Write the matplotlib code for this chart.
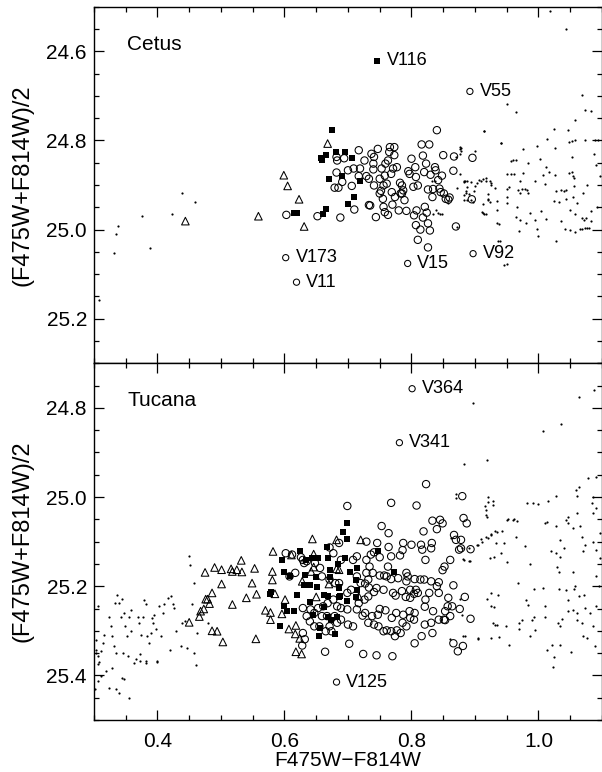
import matplotlib
matplotlib.use("Agg")
import matplotlib.pyplot as plt
from matplotlib.ticker import MultipleLocator

plt.rcParams['font.family'] = ['Liberation Sans', 'DejaVu Sans']

# ---------------- Cetus (top panel) ----------------
cet_circ_x = [0.603, 0.652, 0.688, 0.710, 0.683, 0.682, 0.682, 0.679, 0.685, 0.694, 0.706, 0.709,
              0.717, 0.719, 0.733, 0.733, 0.735, 0.740, 0.740, 0.741, 0.744, 0.747, 0.750, 0.752,
              0.753, 0.755, 0.756, 0.758, 0.759, 0.763, 0.765, 0.766, 0.768, 0.773, 0.769, 0.770,
              0.773, 0.774, 0.777, 0.780, 0.782, 0.785, 0.785, 0.787, 0.789, 0.792, 0.795, 0.797,
              0.800, 0.803, 0.806, 0.807, 0.808, 0.810, 0.816, 0.818, 0.820, 0.821, 0.823, 0.826,
              0.828, 0.830, 0.833, 0.834, 0.837, 0.838, 0.840, 0.842, 0.844, 0.846, 0.848, 0.850,
              0.851, 0.854, 0.858, 0.860, 0.866, 0.867, 0.870, 0.896, 0.895, 0.804, 0.807, 0.814,
              0.818, 0.824, 0.826, 0.829, 0.810, 0.826, 0.783, 0.758, 0.761, 0.771, 0.729, 0.750,
              0.756, 0.763, 0.741, 0.737, 0.726, 0.717, 0.700, 0.691]
cet_circ_y = [24.967, 24.970, 24.973, 24.955, 24.845, 24.837, 24.872, 24.906, 24.906, 24.840, 24.902, 24.863,
              24.822, 24.863, 24.886, 24.945, 24.946, 24.852, 24.865, 24.901, 24.972, 24.819, 24.886, 24.913,
              24.863, 24.931, 24.901, 24.961, 24.852, 24.845, 24.826, 24.815, 24.875, 24.815, 24.916, 24.944,
              24.833, 24.927, 24.860, 24.957, 24.895, 24.901, 24.919, 24.912, 24.934, 24.958, 24.869, 24.875,
              24.841, 24.904, 24.860, 24.882, 24.957, 24.901, 24.809, 24.834, 24.871, 24.949, 24.852, 24.910,
              24.809, 24.877, 24.927, 24.909, 24.860, 24.867, 24.777, 24.889, 24.908, 24.916, 24.879, 24.833,
              24.919, 24.931, 24.933, 24.928, 24.868, 24.836, 24.993, 24.839, 24.932, 24.968, 24.990, 25.000,
              24.973, 24.962, 24.986, 25.002, 25.023, 25.040, 24.919, 24.879, 24.897, 24.863, 24.880, 24.919,
              24.949, 24.967, 24.837, 24.830, 24.845, 24.880, 24.867, 24.893]

cet_sq_x = [0.675, 0.657, 0.659, 0.665, 0.681, 0.695, 0.706, 0.691, 0.670, 0.719,
            0.709, 0.700, 0.665, 0.661, 0.615, 0.619]
cet_sq_y = [24.777, 24.839, 24.845, 24.833, 24.827, 24.827, 24.839, 24.880, 24.887, 24.890,
            24.926, 24.943, 24.953, 24.964, 24.962, 24.962]

cet_tri_x = [0.444, 0.559, 0.599, 0.605, 0.623, 0.631, 0.668]
cet_tri_y = [24.981, 24.970, 24.878, 24.902, 24.932, 24.993, 24.807]

cet_dot_x = [0.331, 0.335, 0.338, 0.375, 0.388, 0.423, 0.438, 0.459, 0.308,
             1.018, 1.043, 0.950, 0.965, 1.068, 1.074, 1.082, 0.914, 1.057, 1.024, 0.941,
             0.878, 0.877, 1.089, 1.048, 1.052, 1.057, 1.073, 1.047, 1.013, 0.998, 1.026,
             0.976, 1.003, 1.052, 1.087, 0.957, 0.960, 0.965, 0.983, 1.012, 1.017, 1.048,
             1.052, 1.054, 1.056, 1.090, 0.950, 0.956, 0.962, 0.877, 0.925, 0.884, 0.894,
             0.907, 0.912, 0.917, 0.994, 1.007, 1.026, 1.028, 1.036, 1.040, 1.044, 1.010,
             1.077, 1.056, 0.974, 0.978, 0.982, 0.971, 0.984, 0.886, 0.898, 0.921, 0.951,
             0.951, 0.951, 0.882, 0.893, 0.920, 0.934, 0.911, 0.914, 0.935, 0.964, 0.971,
             0.981, 0.994, 0.998, 1.000, 0.970, 0.966, 0.987, 1.004, 1.012, 1.027, 1.024,
             1.032, 1.036, 1.041, 1.049, 1.057, 1.069, 1.072, 1.075, 1.065, 1.069, 1.073,
             1.077, 1.080, 1.083, 1.057, 1.083, 1.049, 1.061, 1.043, 1.055, 1.070, 0.936,
             0.946, 0.897, 0.913, 0.870, 0.876, 0.882, 0.887, 0.842, 0.834, 0.876, 0.878,
             0.900, 0.914, 0.941, 0.832, 0.837, 0.883, 0.888, 0.900, 0.903, 0.910, 0.917,
             0.924, 0.926, 0.872, 0.886, 0.891, 0.883, 0.887, 0.921, 0.924, 0.932, 0.934,
             0.845, 0.848, 0.839, 0.858, 0.913, 0.917, 0.938, 0.939, 0.950, 0.953, 0.967,
             0.971, 0.975, 0.871, 1.094, 1.097, 1.092]
cet_dot_y = [25.053, 25.010, 24.993, 24.969, 25.042, 24.965, 24.918, 24.938, 25.159,
             24.510, 24.549, 24.718, 24.737, 24.697, 24.731, 24.733, 24.778, 24.755, 24.775, 24.805,
             24.816, 24.830, 24.798, 24.804, 24.802, 24.799, 24.799, 24.777, 24.796, 24.813, 24.816,
             24.819, 24.841, 24.837, 24.831, 24.847, 24.845, 24.843, 24.851, 24.860, 24.870, 24.872,
             24.870, 24.880, 24.884, 24.855, 24.875, 24.876, 24.875, 24.875, 24.896, 24.890, 24.893,
             24.889, 24.887, 24.890, 24.890, 24.877, 24.878, 24.913, 24.911, 24.913, 24.911, 24.898,
             24.899, 24.903, 24.910, 24.910, 24.911, 24.917, 24.919, 24.917, 24.913, 24.920, 24.910,
             24.927, 24.940, 24.933, 24.933, 24.934, 24.955, 24.961, 24.964, 24.986, 24.971, 24.979,
             24.985, 24.978, 24.999, 25.014, 25.003, 24.950, 24.962, 24.959, 24.977, 25.025, 24.935,
             24.938, 24.981, 24.999, 25.001, 25.006, 24.975, 24.978, 24.975, 24.998, 24.998, 24.997,
             24.997, 24.996, 24.980, 24.966, 24.958, 24.956, 24.940, 24.931, 24.928, 24.917, 25.025,
             25.080, 24.939, 24.942, 24.837, 24.815, 24.893, 24.904, 24.962, 24.964, 24.819, 24.824,
             24.824, 24.779, 24.805, 24.890, 24.892, 24.892, 24.890, 24.903, 24.895, 24.890, 24.884,
             24.892, 24.899, 24.906, 24.914, 24.920, 24.922, 24.933, 24.931, 24.937, 24.906, 24.935,
             24.965, 24.965, 24.956, 24.940, 24.963, 24.965, 24.987, 25.026, 25.077, 24.905, 24.912,
             24.890, 24.873, 24.995, 24.800, 24.880, 24.950]

cet_var_names = ['V116', 'V55', 'V173', 'V11', 'V15', 'V92']
cet_var_x = [0.746, 0.892, 0.602, 0.619, 0.794, 0.897]
cet_var_y = [24.621, 24.690, 25.063, 25.118, 25.076, 25.054]
cet_var_kind = ['sq', 'circ', 'circ', 'circ', 'circ', 'circ']

# ---------------- Tucana (bottom panel) ----------------
tuc_circ_x = [0.699, 0.823, 0.808, 0.768, 0.880, 0.753, 0.833, 0.845, 0.849, 0.840, 0.819, 0.882,
              0.887, 0.867, 0.870, 0.878, 0.893, 0.875, 0.861, 0.852, 0.849, 0.787, 0.800, 0.786,
              0.815, 0.817, 0.822, 0.832, 0.831, 0.764, 0.746, 0.729, 0.714, 0.741, 0.736, 0.750,
              0.768, 0.782, 0.763, 0.734, 0.739, 0.750, 0.757, 0.761, 0.727, 0.733, 0.768, 0.779,
              0.794, 0.805, 0.814, 0.820, 0.831, 0.843, 0.866, 0.840, 0.792, 0.785, 0.771, 0.756,
              0.745, 0.741, 0.732, 0.726, 0.717, 0.775, 0.791, 0.798, 0.804, 0.798, 0.807, 0.810,
              0.864, 0.884, 0.857, 0.853, 0.861, 0.851, 0.843, 0.834, 0.821, 0.805, 0.797, 0.787,
              0.776, 0.769, 0.759, 0.750, 0.747, 0.738, 0.727, 0.714, 0.699, 0.689, 0.683, 0.679,
              0.683, 0.689, 0.700, 0.708, 0.723, 0.732, 0.741, 0.748, 0.756, 0.761, 0.768, 0.777,
              0.786, 0.792, 0.783, 0.774, 0.798, 0.804, 0.821, 0.831, 0.833, 0.816, 0.805, 0.853,
              0.876, 0.893, 0.866, 0.873, 0.881, 0.724, 0.745, 0.770, 0.702, 0.664, 0.628, 0.632,
              0.629, 0.640, 0.647, 0.655, 0.659, 0.667, 0.671, 0.674, 0.665, 0.647, 0.635, 0.629,
              0.641, 0.653, 0.661, 0.668, 0.677, 0.699, 0.705, 0.720, 0.729, 0.732, 0.714, 0.686,
              0.680, 0.671, 0.659, 0.656, 0.648, 0.635, 0.629, 0.617, 0.608, 0.602, 0.612, 0.626,
              0.631, 0.671, 0.677, 0.686, 0.689, 0.708, 0.729, 0.764, 0.792, 0.822, 0.828, 0.843,
              0.858, 0.878]
tuc_circ_y = [25.020, 24.971, 25.019, 25.013, 24.998, 25.065, 25.053, 25.051, 25.059, 25.072, 25.077, 25.047,
              25.059, 25.085, 25.096, 25.096, 25.117, 25.118, 25.141, 25.156, 25.164, 25.103, 25.107, 25.119,
              25.107, 25.118, 25.141, 25.103, 25.115, 25.112, 25.103, 25.100, 25.133, 25.124, 25.129, 25.135,
              25.133, 25.131, 25.156, 25.156, 25.170, 25.176, 25.176, 25.178, 25.194, 25.203, 25.184, 25.182,
              25.178, 25.184, 25.185, 25.185, 25.189, 25.191, 25.198, 25.200, 25.189, 25.211, 25.215, 25.208,
              25.204, 25.213, 25.223, 25.230, 25.238, 25.221, 25.224, 25.226, 25.217, 25.208, 25.208, 25.215,
              25.245, 25.224, 25.245, 25.256, 25.267, 25.275, 25.275, 25.256, 25.246, 25.260, 25.256, 25.264,
              25.260, 25.271, 25.254, 25.251, 25.264, 25.267, 25.260, 25.252, 25.252, 25.249, 25.245, 25.267,
              25.282, 25.275, 25.286, 25.290, 25.266, 25.282, 25.286, 25.290, 25.301, 25.299, 25.301, 25.299,
              25.282, 25.290, 25.305, 25.312, 25.271, 25.275, 25.286, 25.282, 25.305, 25.312, 25.328, 25.276,
              25.251, 25.273, 25.328, 25.346, 25.334, 25.352, 25.355, 25.357, 25.329, 25.347, 25.333, 25.319,
              25.305, 25.279, 25.290, 25.290, 25.267, 25.267, 25.290, 25.301, 25.301, 25.260, 25.267, 25.249,
              25.252, 25.249, 25.245, 25.238, 25.230, 25.215, 25.208, 25.193, 25.170, 25.185, 25.178, 25.193,
              25.193, 25.185, 25.178, 25.159, 25.148, 25.144, 25.141, 25.170, 25.178, 25.126, 25.129, 25.135,
              25.148, 25.113, 25.126, 25.103, 25.141, 25.141, 25.141, 25.081, 25.170, 25.230, 25.215, 25.215,
              25.226, 25.115]

tuc_sq_x = [0.699, 0.692, 0.699, 0.667, 0.625, 0.596, 0.634, 0.644, 0.653, 0.668, 0.684, 0.696,
            0.600, 0.609, 0.633, 0.649, 0.671, 0.672, 0.631, 0.641, 0.652, 0.579, 0.577, 0.620,
            0.662, 0.668, 0.687, 0.686, 0.641, 0.600, 0.604, 0.615, 0.662, 0.699, 0.645, 0.668,
            0.682, 0.673, 0.593, 0.656, 0.655, 0.680, 0.747, 0.772, 0.714, 0.703, 0.686, 0.686,
            0.713, 0.712, 0.714]
tuc_sq_y = [25.059, 25.079, 25.094, 25.111, 25.121, 25.141, 25.142, 25.137, 25.137, 25.137, 25.150, 25.137,
            25.167, 25.178, 25.174, 25.180, 25.163, 25.180, 25.197, 25.197, 25.201, 25.212, 25.217, 25.219,
            25.219, 25.223, 25.223, 25.202, 25.236, 25.244, 25.256, 25.256, 25.247, 25.234, 25.264, 25.268,
            25.268, 25.275, 25.290, 25.294, 25.312, 25.308, 25.121, 25.167, 25.208, 25.167, 25.205, 25.224,
            25.185, 25.225, 25.160]

tuc_tri_x = [0.450, 0.466, 0.468, 0.473, 0.476, 0.479, 0.482, 0.486, 0.475, 0.490, 0.501, 0.501,
             0.516, 0.518, 0.525, 0.532, 0.533, 0.553, 0.549, 0.540, 0.518, 0.486, 0.494, 0.503,
             0.555, 0.556, 0.582, 0.581, 0.581, 0.585, 0.570, 0.578, 0.578, 0.596, 0.607, 0.611,
             0.644, 0.646, 0.682, 0.618, 0.617, 0.624, 0.618, 0.627, 0.601, 0.646, 0.628, 0.670,
             0.650, 0.642, 0.682, 0.720, 0.717, 0.686]
tuc_tri_y = [25.281, 25.268, 25.256, 25.251, 25.229, 25.229, 25.239, 25.215, 25.169, 25.158, 25.163, 25.195,
             25.161, 25.167, 25.163, 25.142, 25.168, 25.160, 25.193, 25.226, 25.241, 25.300, 25.301, 25.325,
             25.318, 25.218, 25.122, 25.167, 25.186, 25.217, 25.254, 25.259, 25.275, 25.262, 25.296, 25.130,
             25.094, 25.128, 25.096, 25.288, 25.307, 25.317, 25.347, 25.352, 25.230, 25.157, 25.189, 25.195,
             25.224, 25.167, 25.161, 25.096, 25.223, 25.163]

tuc_dot_x = [0.307, 0.303, 0.303, 0.306, 0.308, 0.311, 0.315, 0.316, 0.324, 0.327, 0.328, 0.332,
             0.333, 0.337, 0.340, 0.345, 0.342, 0.348, 0.349, 0.352, 0.353, 0.356, 0.358, 0.359,
             0.363, 0.369, 0.371, 0.374, 0.373, 0.377, 0.379, 0.382, 0.382, 0.384, 0.387, 0.390,
             0.391, 0.393, 0.395, 0.397, 0.400, 0.403, 0.405, 0.408, 0.411, 0.417, 0.420, 0.421,
             0.425, 0.426, 0.429, 0.437, 0.439, 0.444, 0.447, 0.450, 0.452, 0.454, 0.457, 0.458,
             0.460, 0.462, 0.479, 0.304, 0.307, 0.311, 0.319, 0.323, 0.328, 0.334, 0.339, 0.345,
             0.347, 0.355, 0.367, 0.373, 0.382, 0.400, 0.302, 0.307, 0.334, 0.346,
             0.897, 0.882, 0.919, 0.870, 0.916, 0.921, 0.928, 0.919, 0.911, 0.905, 0.921, 0.926,
             0.932, 0.933, 0.942, 0.945, 0.952, 0.962, 0.966, 0.965, 0.950, 0.979, 0.924, 0.930,
             0.941, 0.891, 0.882, 0.987, 0.982, 0.992, 1.000, 1.015, 1.027, 1.007, 1.035, 1.064,
             1.087, 0.919, 0.926, 0.937, 0.926, 0.930, 0.967, 0.949, 0.928, 0.932, 0.935, 0.926,
             0.938, 0.905, 0.953, 0.969, 0.974, 0.981, 0.984, 0.989, 0.993, 0.970, 0.986, 0.994,
             0.993, 1.007, 1.010, 1.010, 1.032, 1.043, 1.056, 1.030, 1.034, 1.037, 1.046, 1.014,
             1.022, 1.034, 1.024, 1.023, 1.051, 1.060, 1.069, 1.070, 1.076, 1.072, 1.060, 1.073,
             1.081, 1.086, 1.089, 1.091, 1.096, 1.091, 1.097, 1.091, 1.086, 1.070, 1.073, 1.068,
             1.065, 1.060, 1.060, 1.059, 1.064, 1.078, 1.091, 1.086, 1.085, 1.090, 1.086, 1.097,
             1.054, 1.047, 1.047, 1.044, 1.040, 1.034, 1.027, 1.029, 1.032, 1.020, 1.010, 1.014,
             1.027, 1.034, 1.054, 1.057, 1.047, 1.055, 1.064, 0.870, 0.920, 0.928, 0.917, 0.918,
             0.903, 0.910, 0.917, 0.925, 0.934, 0.862, 0.881, 0.892, 0.884, 0.881, 0.904, 0.860,
             0.879, 0.877, 0.950, 0.960, 0.890, 0.879]
tuc_dot_y = [25.244, 25.320, 25.342, 25.357, 25.370, 25.346, 25.327, 25.309, 25.268, 25.290, 25.312, 25.335,
             25.238, 25.219, 25.238, 25.229, 25.268, 25.260, 25.290, 25.312, 25.357, 25.268, 25.253, 25.301,
             25.372, 25.268, 25.283, 25.309, 25.353, 25.268, 25.230, 25.241, 25.368, 25.312, 25.327, 25.305,
             25.271, 25.283, 25.264, 25.297, 25.370, 25.245, 25.312, 25.260, 25.241, 25.227, 25.342, 25.223,
             25.241, 25.249, 25.301, 25.335, 25.283, 25.279, 25.338, 25.133, 25.152, 25.241, 25.193, 25.350,
             25.376, 25.306, 25.283, 25.349, 25.375, 25.402, 25.390, 25.428, 25.383, 25.431, 25.439, 25.405,
             25.407, 25.451, 25.364, 25.368, 25.373, 25.368, 25.431, 25.413, 25.349, 25.349,
             24.789, 24.926, 24.917, 24.993, 25.019, 25.000, 25.009, 25.045, 25.100, 25.107, 25.092, 25.085,
             25.077, 25.103, 25.077, 25.103, 25.050, 25.050, 25.053, 25.089, 25.146, 25.109, 25.137, 25.135,
             25.126, 25.144, 25.141, 25.150, 25.014, 25.014, 25.016, 25.008, 24.998, 24.851, 24.837, 24.775,
             24.759, 25.229, 25.215, 25.219, 25.244, 25.247, 25.193, 25.290, 25.282, 25.288, 25.288, 25.317,
             25.315, 25.316, 25.332, 25.296, 25.275, 25.232, 25.243, 25.275, 25.268, 25.282, 25.311, 25.299,
             25.206, 25.204, 25.245, 25.268, 25.206, 25.208, 25.206, 25.282, 25.290, 25.274, 25.256, 25.344,
             25.332, 25.332, 25.359, 25.381, 25.347, 25.260, 25.282, 25.312, 25.316, 25.219, 25.275, 25.249,
             25.260, 25.290, 25.335, 25.245, 25.200, 25.178, 25.137, 25.118, 25.100, 25.122, 25.107, 25.089,
             25.066, 25.036, 24.998, 24.984, 24.977, 24.958, 24.956, 24.999, 25.014, 25.025, 25.036, 25.081,
             25.070, 25.059, 25.044, 25.051, 25.115, 25.135, 25.126, 25.156, 25.169, 25.122, 25.059, 25.057,
             25.064, 25.096, 25.167, 25.200, 25.230, 25.254, 25.223, 25.003, 25.010, 25.018, 25.030, 25.040,
             25.107, 25.095, 25.090, 25.083, 25.078, 25.092, 25.139, 25.144, 25.312, 25.312, 25.318, 25.318,
             25.264, 25.229, 25.051, 25.051, 25.115, 25.115]

tuc_var_names = ['V364', 'V341', 'V125']
tuc_var_x = [0.801, 0.781, 0.682]
tuc_var_y = [24.757, 24.878, 25.415]

panels = ['Cetus', 'Tucana']

fig = plt.figure(figsize=(6.02, 7.72), dpi=100)
ax1 = fig.add_axes([0.156, 0.5294, 0.844, 0.4619])
ax2 = fig.add_axes([0.156, 0.0674, 0.844, 0.4620], sharex=ax1)

circ_kw = dict(s=28, facecolors='none', edgecolors='black', linewidths=0.75, zorder=3)
sq_kw = dict(s=20, marker='s', color='black', linewidths=0, zorder=4)
tri_kw = dict(s=30, marker='^', facecolors='none', edgecolors='black', linewidths=0.75, zorder=4)
dot_kw = dict(s=2.5, color='black', linewidths=0, zorder=2)
var_kw = dict(s=20, facecolors='none', edgecolors='black', linewidths=0.75, zorder=3)

# top panel
ax1.scatter(cet_dot_x, cet_dot_y, **dot_kw)
ax1.scatter(cet_circ_x, cet_circ_y, **circ_kw)
ax1.scatter(cet_tri_x, cet_tri_y, **tri_kw)
ax1.scatter(cet_sq_x, cet_sq_y, **sq_kw)
for name, x, y, kind in zip(cet_var_names, cet_var_x, cet_var_y, cet_var_kind):
    if kind == 'sq':
        ax1.scatter([x], [y], **sq_kw)
    else:
        ax1.scatter([x], [y], **var_kw)
    ax1.annotate(name, (x, y), xytext=(7, 0), textcoords='offset points',
                 va='center', ha='left', fontsize=13)

# bottom panel
ax2.scatter(tuc_dot_x, tuc_dot_y, **dot_kw)
ax2.scatter(tuc_circ_x, tuc_circ_y, **circ_kw)
ax2.scatter(tuc_tri_x, tuc_tri_y, **tri_kw)
ax2.scatter(tuc_sq_x, tuc_sq_y, **sq_kw)
for name, x, y in zip(tuc_var_names, tuc_var_x, tuc_var_y):
    ax2.scatter([x], [y], **var_kw)
    ax2.annotate(name, (x, y), xytext=(7, 0), textcoords='offset points',
                 va='center', ha='left', fontsize=13)

ax1.set_xlim(0.3, 1.1)
ax1.set_ylim(25.3, 24.5)
ax2.set_ylim(25.5, 24.7)

for ax, name in zip([ax1, ax2], panels):
    ax.xaxis.set_major_locator(MultipleLocator(0.2))
    ax.xaxis.set_minor_locator(MultipleLocator(0.05))
    ax.yaxis.set_major_locator(MultipleLocator(0.2))
    ax.yaxis.set_minor_locator(MultipleLocator(0.05))
    ax.xaxis.set_major_formatter(plt.FormatStrFormatter('%.1f'))
    ax.yaxis.set_major_formatter(plt.FormatStrFormatter('%.1f'))
    ax.tick_params(which='both', direction='in', top=True, right=True, labelsize=15, width=0.9)
    ax.tick_params(which='major', length=7)
    ax.tick_params(which='minor', length=3.8)
    ax.tick_params(axis='y', pad=5)
    ax.tick_params(axis='x', pad=9)
    for sp in ax.spines.values():
        sp.set_linewidth(1.0)
    ax.set_ylabel('(F475W+F814W)/2', fontsize=17)
    ax.yaxis.set_label_coords(-0.118, 0.5)
    ax.text(0.066, 0.895, name, transform=ax.transAxes, fontsize=15, ha='left', va='center')

ax1.tick_params(axis='x', labelbottom=False)
ax2.set_xlabel('F475W\u2212F814W', fontsize=15, labelpad=0)

fig.savefig('out.png', dpi=100)
